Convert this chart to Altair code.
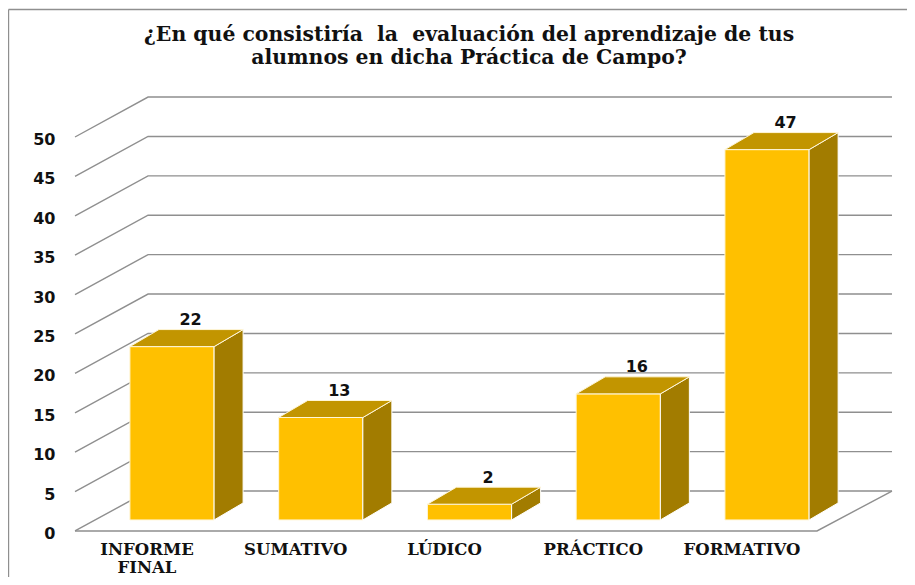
import altair as alt
import pandas as pd

TITLE = ["¿En qué consistiría\u00a0 la\u00a0 evaluación del aprendizaje de tus", "alumnos en dicha Práctica de Campo?"]
categories = ["INFORME\nFINAL", "SUMATIVO", "LÚDICO", "PRÁCTICO", "FORMATIVO"]
values = [22, 13, 2, 16, 47]
y_ticks = [0, 5, 10, 15, 20, 25, 30, 35, 40, 45, 50]

# box geometry in axis units
HALF = 0.283
BASE = 1.4
DX = 0.195
DY = 2.16
FX0, FX1 = -0.652, 4.336      # front edge of floor
WX0, WX1 = -0.161, 4.84       # back wall extent
WY_SHIFT = 5.07               # wall offset along y
LABEL_SHIFT = -0.168

X = alt.Scale(domain=[-1.1025, 4.941], nice=False, zero=False)
Y = alt.Scale(domain=[-5.84, 66.37], nice=False, zero=False)
Y_AXIS = alt.Axis(values=y_ticks, domain=False, ticks=False, grid=False, title=None,
                  offset=-47, labelPadding=0, labelOffset=2.5, labelFont="DejaVu Sans", labelFontWeight="bold",
                  labelFontSize=16, labelColor="#111111")
xq = lambda f: alt.X(f, type="quantitative", scale=X, axis=None)
yq = lambda f: alt.Y(f, type="quantitative", scale=Y, axis=Y_AXIS)

GRID = "#8f8f8f"
FRONT = "#FFC000"
SIDE = "#A27C00"
TOP = "#C29500"

# gridlines: diagonal on the side wall plus horizontal on the back wall
grid_rows = []
for t in y_ticks:
    grid_rows += [
        {"t": t, "x": FX0, "y": t},
        {"t": t, "x": WX0, "y": t + WY_SHIFT},
        {"t": t, "x": WX1, "y": t + WY_SHIFT},
    ]
grid = alt.Chart(pd.DataFrame(grid_rows)).mark_line(color=GRID, strokeWidth=1.4).encode(
    x=xq("x"), y=yq("y"), detail="t:N")

floor = alt.Chart(pd.DataFrame({"x": [FX0, FX1, WX1], "y": [0, 0, WY_SHIFT]})).mark_line(
    color=GRID, strokeWidth=1.4).encode(x=xq("x"), y=yq("y"))

df = pd.DataFrame({"i": range(len(values)), "cat": categories, "v": values})
df["x0"] = df.i - HALF
df["x1"] = df.i + HALF
df["y0"] = BASE
df["y1"] = df.v + BASE

front = alt.Chart(df).mark_rect(color=FRONT, stroke="#FFF6D8", strokeWidth=1).encode(
    x=xq("x0"), x2="x1", y=yq("y0"), y2="y1")

side_rows, top_rows = [], []
for i, v in enumerate(values):
    side_rows += [
        {"i": i, "x": i + HALF, "lo": BASE, "hi": v + BASE},
        {"i": i, "x": i + HALF + DX, "lo": BASE + DY, "hi": v + BASE + DY},
    ]
    top_rows += [
        {"i": i, "y": v + BASE, "a": i - HALF, "b": i + HALF},
        {"i": i, "y": v + BASE + DY, "a": i - HALF + DX, "b": i + HALF + DX},
    ]

side = alt.Chart(pd.DataFrame(side_rows)).mark_area(
    color=SIDE, stroke="#FFFFFF", strokeWidth=1, orient="vertical").encode(
    x=xq("x"), y=yq("lo"), y2="hi", detail="i:N")
top = alt.Chart(pd.DataFrame(top_rows)).mark_area(
    color=TOP, stroke="#FFF6D8", strokeWidth=1, orient="horizontal").encode(
    y=yq("y"), x=xq("a"), x2="b", detail="i:N")

df["lx"] = df.i + 0.125
df["ly"] = df.v + BASE + DY + 0.2
value_text = alt.Chart(df).mark_text(
    font="DejaVu Sans", fontWeight="bold", fontSize=16, color="#111111", baseline="bottom", align="center"
).encode(x=xq("lx"), y=yq("ly"), text="v:Q")

df["cx"] = df.i + LABEL_SHIFT
df["cy"] = -1.4
cat_text = alt.Chart(df).mark_text(
    font="DejaVu Serif", fontWeight="bold", fontSize=16.5, color="#111111",
    baseline="top", align="center", lineBreak="\n", lineHeight=18
).encode(x=xq("cx"), y=yq("cy"), text="cat:N")

border_top = alt.Chart().mark_rule(color=GRID, strokeWidth=1.4).encode(
    x=alt.value(0.5), x2=alt.value(899), y=alt.value(1.5))
border_left = alt.Chart().mark_rule(color=GRID, strokeWidth=1.4).encode(
    x=alt.value(0.5), y=alt.value(1.5), y2=alt.value(569))

chart = alt.layer(grid, floor, front, side, top, value_text, cat_text, border_top, border_left).properties(
    width=899, height=569,
    padding=0,
    autosize=alt.AutoSizeParams(type="none"),
    title=alt.TitleParams(text=TITLE, font="DejaVu Serif", fontWeight="bold", fontSize=20.4, color="#111111",
                          anchor="middle", frame="group", dx=11.5, dy=64, lineHeight=23, baseline="top"),
).configure_view(stroke=None)

chart.save("out.html", embed_options={"renderer": "svg", "actions": False})
